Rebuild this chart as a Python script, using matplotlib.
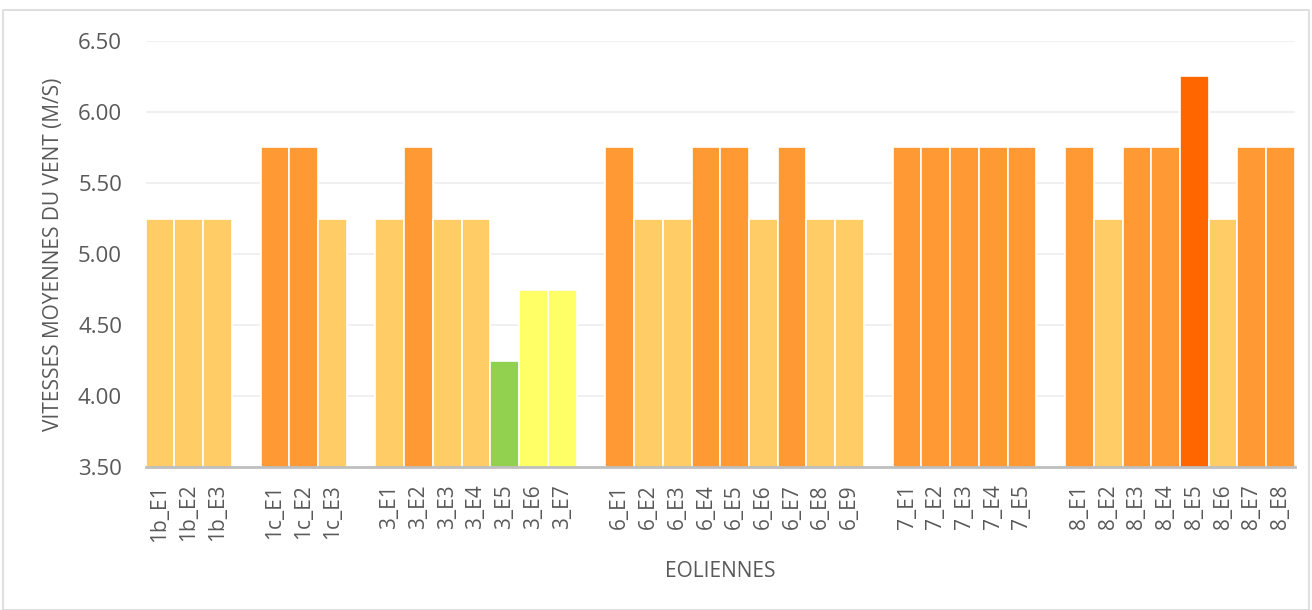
import numpy as np
import matplotlib
matplotlib.use("Agg")
import matplotlib.pyplot as plt
from matplotlib.patches import Rectangle

# wind turbines, grouped by site ("" = empty slot between sites)
labels = ["1b_E1", "1b_E2", "1b_E3", "",
          "1c_E1", "1c_E2", "1c_E3", "",
          "3_E1", "3_E2", "3_E3", "3_E4", "3_E5", "3_E6", "3_E7", "",
          "6_E1", "6_E2", "6_E3", "6_E4", "6_E5", "6_E6", "6_E7", "6_E8", "6_E9", "",
          "7_E1", "7_E2", "7_E3", "7_E4", "7_E5", "",
          "8_E1", "8_E2", "8_E3", "8_E4", "8_E5", "8_E6", "8_E7", "8_E8"]

speeds = [5.25, 5.25, 5.25, np.nan,
          5.75, 5.75, 5.25, np.nan,
          5.25, 5.75, 5.25, 5.25, 4.25, 4.75, 4.75, np.nan,
          5.75, 5.25, 5.25, 5.75, 5.75, 5.25, 5.75, 5.25, 5.25, np.nan,
          5.75, 5.75, 5.75, 5.75, 5.75, np.nan,
          5.75, 5.25, 5.75, 5.75, 6.25, 5.25, 5.75, 5.75]

# colour class per speed
speed_colors = {4.25: "#92D050", 4.75: "#FFFF66", 5.25: "#FFCC66",
                5.75: "#FF9933", 6.25: "#FF6600"}

plt.rcParams['font.family'] = ['Open Sans', 'DejaVu Sans']
grey = "#595959"

fig = plt.figure(figsize=(13.12, 6.10), dpi=100)
ax = fig.add_axes([0.111, 0.234, 0.876, 0.699])

x = np.arange(len(labels))
vals = np.nan_to_num(np.array(speeds), nan=0.0)
cols = [speed_colors.get(v, "white") for v in speeds]
ax.bar(x, vals, width=1.0, color=cols, edgecolor="white", linewidth=1.2, zorder=2)

ax.set_ylim(3.5, 6.5)
ax.set_xlim(-0.5, len(labels) - 0.5)
ax.set_yticks(np.arange(3.5, 6.51, 0.5))
ax.set_yticklabels([f"{v:.2f}" for v in np.arange(3.5, 6.51, 0.5)])
ax.yaxis.grid(True, color="#EDEDED", linewidth=1.2, zorder=0)
ax.set_axisbelow(True)

ax.set_xticks(x)
ax.set_xticklabels(labels, rotation=90)
ax.tick_params(axis="x", length=0, pad=12, labelsize=15, labelcolor=grey)
ax.tick_params(axis="y", length=0, pad=17, labelsize=16, labelcolor=grey)

for s in ["top", "right", "left"]:
    ax.spines[s].set_visible(False)
ax.spines["bottom"].set_color("#BFBFBF")
ax.spines["bottom"].set_linewidth(2)
ax.spines["bottom"].set_zorder(3)

ax.set_ylabel("VITESSES MOYENNES DU VENT (M/S)", fontsize=15, color=grey, labelpad=10)
ax.set_xlabel("EOLIENNES", fontsize=15, color=grey, labelpad=14)

# chart frame
fig.patches.append(Rectangle((0.002, 0.0), 0.996, 0.984, transform=fig.transFigure,
                             fill=False, edgecolor="#D9D9D9", linewidth=1.2))

plt.savefig("out.png", dpi=100)
